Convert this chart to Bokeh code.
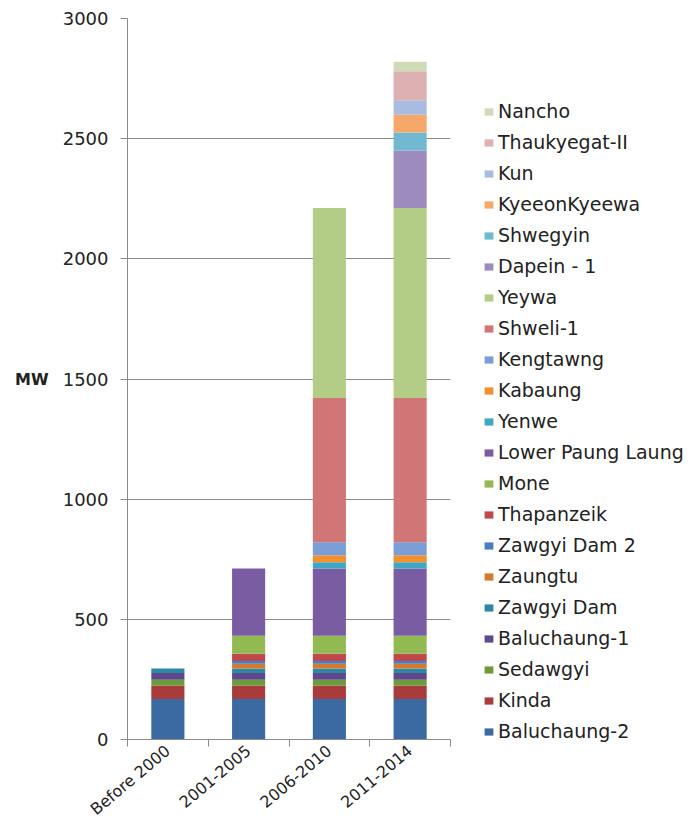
import math
from bokeh.plotting import figure
from bokeh.models import (Range1d, FixedTicker, Legend, LegendItem,
                          ColumnDataSource)
from bokeh.embed import file_html
from bokeh.resources import INLINE

# ---------------- data ----------------
categories = ["Before 2000", "2001-2005", "2006-2010", "2011-2014"]

series = ["Baluchaung-2", "Kinda", "Sedawgyi", "Baluchaung-1", "Zawgyi Dam",
          "Zaungtu", "Zawgyi Dam 2", "Thapanzeik", "Mone", "Lower Paung Laung",
          "Yenwe", "Kabaung", "Kengtawng", "Shweli-1", "Yeywa", "Dapein - 1",
          "Shwegyin", "KyeeonKyeewa", "Kun", "Thaukyegat-II", "Nancho"]

colors = ["#3B69A2", "#A83B3B", "#6E9A3C", "#5E4A8A", "#2C88A4",
          "#D47A2C", "#4A7EC2", "#C0474A", "#93BA52", "#7A5CA3",
          "#3DA7C4", "#F2902F", "#7C9ED6", "#D17676", "#B3CD86", "#9D8BBE",
          "#70B9D0", "#F6A86A", "#A8BCE1", "#DDB0B1", "#CFDAB6"]

# MW per series (same order as `series`) for each period
before_2000 = [168, 56, 25, 28, 18, 0, 0, 0, 0, 0,
               0, 0, 0, 0, 0, 0, 0, 0, 0, 0, 0]
p_2001_2005 = [168, 56, 25, 28, 18, 20, 12, 30, 75, 280,
               0, 0, 0, 0, 0, 0, 0, 0, 0, 0, 0]
p_2006_2010 = [168, 56, 25, 28, 18, 20, 12, 30, 75, 280,
               25, 30, 54, 600, 790, 0, 0, 0, 0, 0, 0]
p_2011_2014 = [168, 56, 25, 28, 18, 20, 12, 30, 75, 280,
               25, 30, 54, 600, 790, 240, 75, 74, 60, 120, 40]

y_ticks = [0, 500, 1000, 1500, 2000, 2500, 3000]

# ---------------- build ----------------
periods = [before_2000, p_2001_2005, p_2006_2010, p_2011_2014]
centers = [i + 0.5 for i in range(len(categories))]
bounds = [float(i) for i in range(len(categories) + 1)]

data = {"x": centers}
for j, name in enumerate(series):
    data[name] = [per[j] for per in periods]
source = ColumnDataSource(data)

FONT = "DejaVu Sans"
GRID = "#8a8a8a"
TEXT = "#222222"

p = figure(frame_width=323, frame_height=721, output_backend="svg",
           toolbar_location=None,
           x_range=Range1d(0, len(categories)), y_range=Range1d(0, y_ticks[-1]),
           min_border_left=127, min_border_top=18, min_border_bottom=88,
           min_border_right=0)
p.outline_line_color = None
p.background_fill_color = "white"

renderers = p.vbar_stack(series, x="x", width=0.41, source=source,
                         color=colors, line_color=None)

# x axis
xa = p.xaxis[0]
xa.ticker = FixedTicker(ticks=centers, minor_ticks=bounds)
xa.major_label_overrides = {c: lab for c, lab in zip(centers, categories)}
xa.major_label_orientation = math.radians(40)
xa.major_tick_out = 0
xa.major_tick_in = 0
xa.minor_tick_out = 7
xa.minor_tick_in = 0
xa.minor_tick_line_color = GRID
xa.axis_line_color = GRID
xa.major_label_standoff = 2
xa.major_label_text_font = FONT
xa.major_label_text_font_size = "16px"
xa.major_label_text_color = TEXT

# y axis
ya = p.yaxis[0]
ya.ticker = FixedTicker(ticks=y_ticks)
ya.major_tick_out = 7
ya.major_tick_in = 0
ya.minor_tick_out = 0
ya.minor_tick_in = 0
ya.major_tick_line_color = GRID
ya.axis_line_color = GRID
ya.major_label_standoff = 12
ya.major_label_text_font = FONT
ya.major_label_text_font_size = "18px"
ya.major_label_text_color = TEXT
ya.axis_label = "MW"
ya.axis_label_orientation = "horizontal"
ya.axis_label_text_font = FONT
ya.axis_label_text_font_style = "bold"
ya.axis_label_text_font_size = "16px"
ya.axis_label_text_color = TEXT
ya.axis_label_standoff = 11

p.xgrid.grid_line_color = None
p.ygrid.grid_line_color = GRID
p.ygrid.ticker = FixedTicker(ticks=y_ticks)

items = [LegendItem(label=name, renderers=[r])
         for name, r in zip(series, renderers)][::-1]
legend = Legend(items=items, location=(33, -3),
                label_text_font=FONT, label_text_font_size="19px",
                label_text_color=TEXT, glyph_width=11, glyph_height=9,
                label_standoff=4, spacing=9, label_height=21,
                padding=0, margin=0, border_line_color=None,
                background_fill_alpha=0)
p.add_layout(legend, "right")

open("out.html", "w").write(file_html(p, INLINE))
